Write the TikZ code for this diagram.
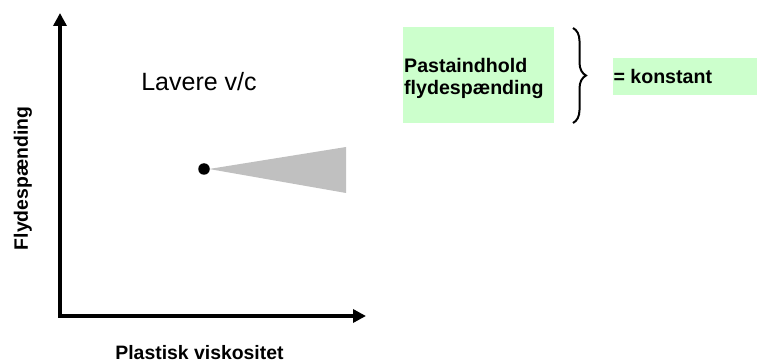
\documentclass[tikz,border=0pt]{standalone}
\usepackage{fontspec}
\setmainfont{Liberation Sans}
\usetikzlibrary{arrows.meta,decorations.pathreplacing}
\definecolor{paleGreen}{HTML}{CCFFCC}
\definecolor{fanGray}{HTML}{C0C0C0}

\begin{document}
\begin{tikzpicture}[x=1pt,y=-1pt,
    axis/.style={line width=4pt,{Triangle[length=13pt,width=13pt]}-{Triangle[length=13pt,width=13pt]}},
    lbl/.style={font=\fontsize{19.4}{23}\selectfont\bfseries,inner sep=1pt},
    txt/.style={font=\fontsize{19.6}{22}\selectfont\bfseries,inner sep=0pt},
    gbox/.style={fill=paleGreen,inner sep=0pt}]
  \useasboundingbox (0,0) rectangle (757,363);
  % axes: origin lower left, arrows up and right
  \coordinate (o)    at (60,316);
  \coordinate (ytip) at (60,13);
  \coordinate (xtip) at (366,316);
  \draw[axis] (ytip) -- (o) -- (xtip);
  \node[lbl] (xlbl) at (199.5,353) {Plastisk viskositet};
  \node[lbl,rotate=90] (ylbl) at (23,178.5) {Flydespænding};
  \node[font=\fontsize{25}{30}\selectfont] (lavere) at (199,82) {Lavere v/c};
  % the point and its grey fan
  \coordinate (fanA) at (209,169);
  \coordinate (fanT) at (346,147);
  \coordinate (fanB) at (346,193);
  \fill[fanGray] (fanA) -- (fanT) -- (fanB) -- cycle;
  \node[circle,fill=black,inner sep=0pt,minimum size=11.5pt] (pt) at (204,169) {};
  % green boxes and the brace between them
  \node[gbox,minimum width=151pt,minimum height=96pt] (paste) at (478.5,75) {};
  \node[txt,anchor=west,align=left] (pastetxt) at (404,78)
    {Pastaindhold\\flydespænding};
  \node[gbox,minimum width=144pt,minimum height=37pt] (konst) at (685,76.5) {};
  \node[txt,anchor=west] (konsttxt) at ([xshift=0.5pt]konst.west) {= konstant};
  \coordinate (bt) at (573,28);
  \coordinate (bb) at (573,123);
  \draw[line width=2pt,decorate,decoration={brace,amplitude=13pt}] (bt) -- (bb);
\end{tikzpicture}
\end{document}
